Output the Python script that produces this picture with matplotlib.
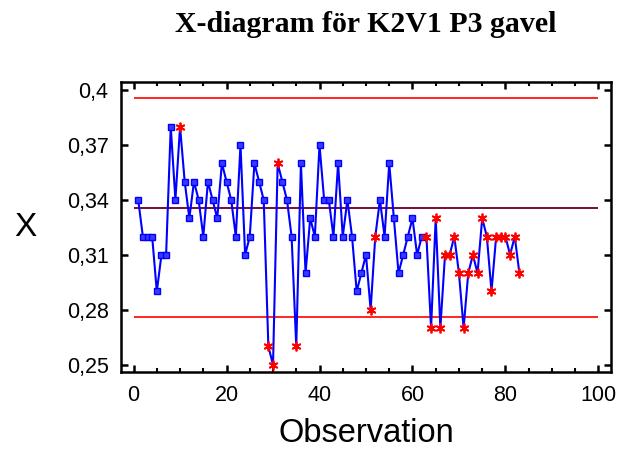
import numpy as np
import matplotlib
matplotlib.use('Agg')
import matplotlib.pyplot as plt
from matplotlib.ticker import MultipleLocator, FuncFormatter

# Data
obs = list(range(1, 84))
x_vals = [0.34, 0.32, 0.32, 0.32, 0.29, 0.31, 0.31, 0.38, 0.34, 0.38,
          0.35, 0.33, 0.35, 0.34, 0.32, 0.35, 0.34, 0.33, 0.36, 0.35,
          0.34, 0.32, 0.37, 0.31, 0.32, 0.36, 0.35, 0.34, 0.26, 0.25,
          0.36, 0.35, 0.34, 0.32, 0.26, 0.36, 0.30, 0.33, 0.32, 0.37,
          0.34, 0.34, 0.32, 0.36, 0.32, 0.34, 0.32, 0.29, 0.30, 0.31,
          0.28, 0.32, 0.34, 0.32, 0.36, 0.33, 0.30, 0.31, 0.32, 0.33,
          0.31, 0.32, 0.32, 0.27, 0.33, 0.27, 0.31, 0.31, 0.32, 0.30,
          0.27, 0.30, 0.31, 0.30, 0.33, 0.32, 0.29, 0.32, 0.32, 0.32,
          0.31, 0.32, 0.30]
flagged = [10, 29, 30, 31, 35, 51, 52] + list(range(63, 84))
ucl = 0.3955
cl = 0.3358
lcl = 0.2762

obs_ar = np.array(obs)
x_ar = np.array(x_vals)
flag_mask = np.isin(obs_ar, flagged)

fig = plt.figure(figsize=(6.19, 4.49), dpi=100)
ax = fig.add_axes([0.1955, 0.1726, 0.7915, 0.6448])

# control limits
ax.hlines([ucl, lcl], 0, 100, colors='#ff0000', linewidth=1.2, zorder=1)
ax.hlines(cl, 0, 100, colors='#7a0a3c', linewidth=1.4, zorder=1)

# data line
ax.plot(obs_ar, x_ar, color='#0000ff', linewidth=1.5, zorder=2)
ax.plot(obs_ar[~flag_mask], x_ar[~flag_mask], linestyle='none', marker='s',
        markersize=3.8, markerfacecolor='#3a3aff', markeredgecolor='#0000ff',
        markeredgewidth=1.0, zorder=3)
ax.plot(obs_ar[flag_mask], x_ar[flag_mask], linestyle='none', marker=(6, 2, 0),
        markersize=7, markeredgecolor='#ff0000', markeredgewidth=1.3, zorder=4)

ax.set_xlim(-2.7, 102.7)
ax.set_ylim(0.2463, 0.4044)
ax.xaxis.set_major_locator(MultipleLocator(20))
ax.xaxis.set_minor_locator(MultipleLocator(5))
ax.set_yticks([0.25, 0.28, 0.31, 0.34, 0.37, 0.40])
ax.yaxis.set_major_formatter(FuncFormatter(lambda v, p: ('%.2f' % v).rstrip('0').replace('.', ',')))

for s in ax.spines.values():
    s.set_linewidth(1.8)
ax.tick_params(which='major', direction='in', length=5, width=1.8,
               top=True, right=True, labelsize=15.5)
ax.tick_params(axis='x', which='major', pad=10)
ax.tick_params(axis='y', which='major', pad=9)
ax.tick_params(which='minor', direction='in', length=3, width=1.5, top=True)
for lab in ax.get_xticklabels() + ax.get_yticklabels():
    lab.set_fontfamily('Liberation Sans')

ax.set_xlabel('Observation', fontsize=23.5, family='Liberation Sans', labelpad=8)
ax.set_ylabel('X', fontsize=24, family='Liberation Sans', rotation=0,
              va='center', ha='center')
ax.yaxis.set_label_coords(-0.196, 0.496)
fig.suptitle('X-diagram för K2V1 P3 gavel', x=0.591, y=0.975, fontsize=21.5,
             fontweight='bold', family='Liberation Serif')

fig.savefig('out.png', dpi=100)
